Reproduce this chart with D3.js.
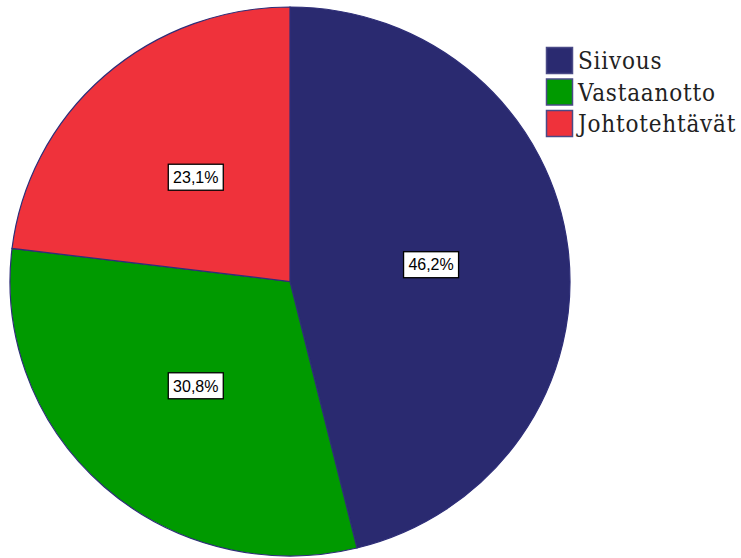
<!DOCTYPE html>
<html>
<head>
<meta charset="utf-8">
<script src="https://cdn.jsdelivr.net/npm/d3@7"></script>
<style>
  body { margin: 0; background: #fff; }
  svg { display: block; }
</style>
</head>
<body>
<div id="chart"></div>
<script>
// data (counts 6/4/3 out of 13)
var categories = ['Siivous', 'Vastaanotto', 'Johtotehtävät']
var counts = [6, 4, 3]
var percentLabels = ['46,2%', '30,8%', '23,1%']
var colours = ['#2a2a70', '#009a00', '#ef323b']

var width = 741, height = 558
var cx = 290, cy = 281.5
var rx = 280, ry = 274.5

var svg = d3.select('#chart')
    .append('svg')
    .attr('width', width)
    .attr('height', height)

var slices = categories.map((c, i) => ({name: c, value: counts[i], label: percentLabels[i], colour: colours[i]}))

var pie = d3.pie()
    .sort(null)
    .value(d => d.value)

var arc = d3.arc()
    .innerRadius(0)
    .outerRadius(rx)

// the pie in the picture is a touch squashed, so scale the y direction
var pieGroup = svg.append('g')
    .attr('transform', `translate(${cx},${cy}) scale(1,${ry / rx})`)

pieGroup.selectAll('path')
    .data(pie(slices))
    .enter()
    .append('path')
    .attr('d', arc)
    .attr('fill', d => d.data.colour)
    .attr('stroke', '#2e2e78')
    .attr('stroke-width', 1.2)

//Percent labels in white boxes
var labelArc = d3.arc()
    .innerRadius(0)
    .outerRadius(rx * 1.015)

var labels = svg.append('g')
    .attr('transform', `translate(${cx},${cy})`)
    .selectAll('g')
    .data(pie(slices))
    .enter()
    .append('g')
    .attr('transform', d => {
        var c = labelArc.centroid(d)
        return `translate(${c[0]},${c[1] * ry / rx})`
    })

labels.append('rect')
    .attr('x', -27.5)
    .attr('y', -13)
    .attr('width', 55)
    .attr('height', 26)
    .attr('fill', '#fff')
    .attr('stroke', '#000')
    .attr('stroke-width', 1.3)

labels.append('text')
    .attr('text-anchor', 'middle')
    .attr('dy', '0.36em')
    .attr('font-family', "'Liberation Sans', Arial, sans-serif")
    .attr('font-size', 16)
    .attr('fill', '#000')
    .text(d => d.data.label)

//Legend
var legend = svg.append('g')
    .attr('transform', 'translate(546,47)')

var legendItem = legend.selectAll('g')
    .data(slices)
    .enter()
    .append('g')
    .attr('transform', (d, i) => `translate(0,${i * 31.5})`)

legendItem.append('rect')
    .attr('x', 0.5)
    .attr('y', 0.5)
    .attr('width', 26)
    .attr('height', 26)
    .attr('fill', d => d.colour)
    .attr('stroke', '#4a4a86')
    .attr('stroke-width', 1.5)

legendItem.append('text')
    .attr('x', 32)
    .attr('y', 22)
    .attr('font-family', "'DejaVu Serif Condensed', 'DejaVu Serif', serif")
    .attr('font-size', 24)
    .attr('letter-spacing', 0.8)
    .attr('fill', '#222')
    .text(d => d.name)
</script>
</body>
</html>
